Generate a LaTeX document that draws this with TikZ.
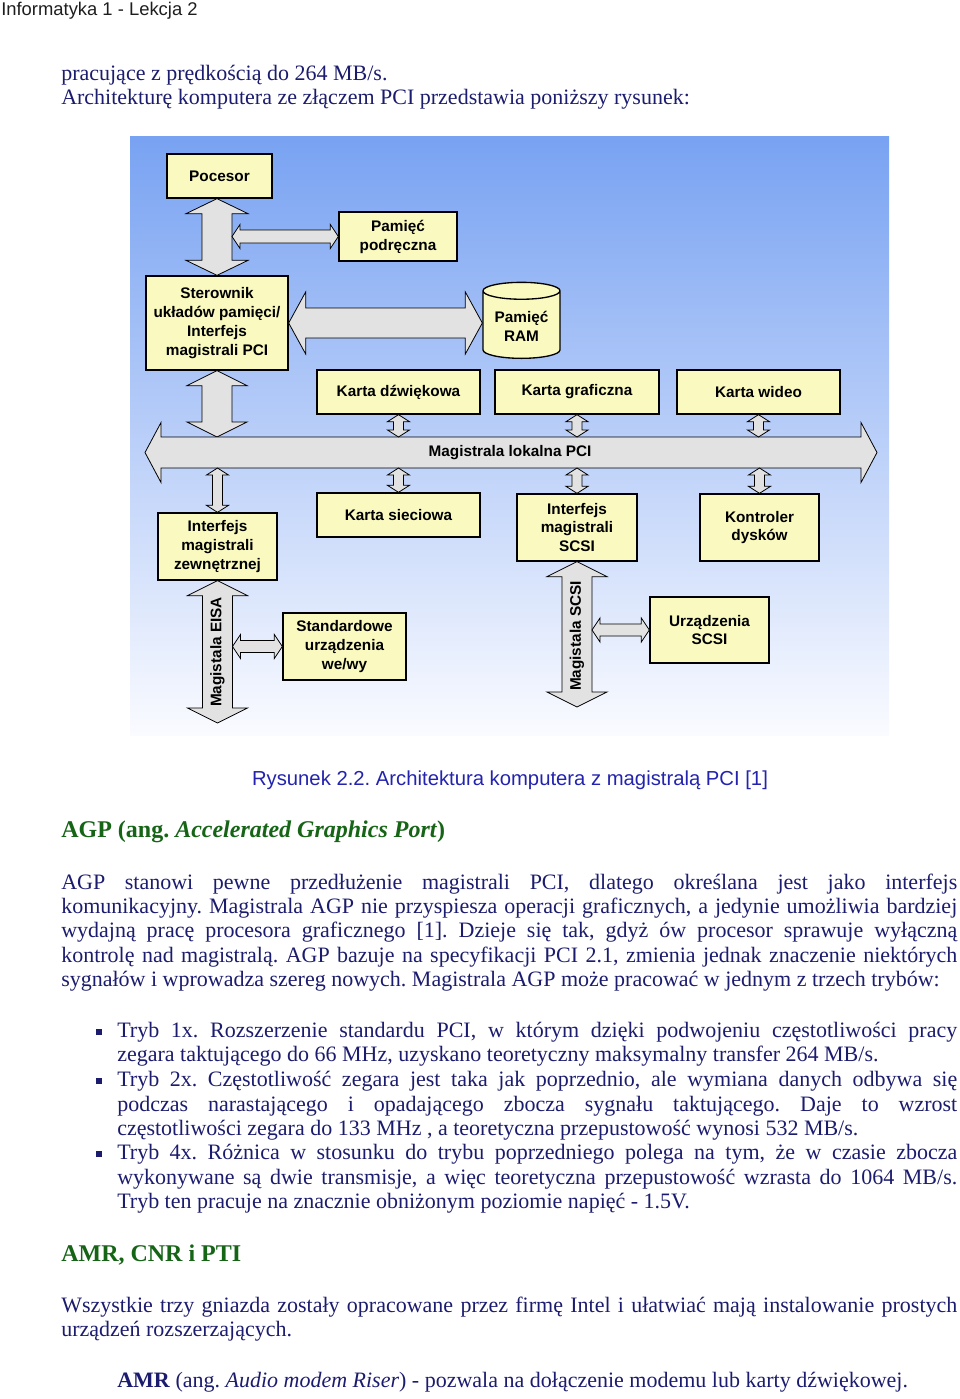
\documentclass[tikz,border=0pt]{standalone}
\usepackage{fontspec}
\setmainfont{Liberation Serif}
\newfontfamily\arialfont{Liberation Sans}
\usepackage{tikz}
\usetikzlibrary{calc,shapes.geometric}
\frenchspacing
\definecolor{textnavy}{RGB}{28,28,110}
\definecolor{capblue}{RGB}{35,35,175}
\definecolor{headgreen}{RGB}{22,100,22}
\definecolor{headgray}{RGB}{30,30,30}
\definecolor{boxyellow}{RGB}{250,250,192}
\definecolor{arrgray}{RGB}{226,226,226}
\definecolor{bgtop}{RGB}{120,162,242}
\definecolor{bgmid}{RGB}{185,205,245}
\definecolor{bgbot}{RGB}{250,251,255}
\newcommand{\diagtext}{\arialfont\bfseries\fontsize{11.5}{14.2}\selectfont}
\newcommand{\bodytext}{\fontsize{16.5}{18.2}\selectfont}
\newcommand{\headtext}{\bfseries\fontsize{18}{20}\selectfont}
\newcommand{\jline}[1]{\makebox[672pt][s]{#1}}
\newcommand{\jbul}[1]{\makebox[630pt][s]{#1}}
\tikzstyle{box}=[rectangle,draw=black,line width=1pt,fill=boxyellow,align=center,font=\diagtext,inner sep=1pt]
\tikzstyle{bsize}=[minimum width=#1*0.75pt]
\tikzstyle{arr}=[draw=black,line width=0.6pt,fill=arrgray]
\tikzstyle{diaglabel}=[font=\diagtext,inner sep=0pt]
\tikzstyle{txt}=[anchor=base west,inner sep=0pt,text=textnavy,font=\bodytext]
\tikzstyle{heading}=[anchor=base west,inner sep=0pt,text=headgreen,font=\headtext]
\tikzstyle{sqbullet}=[rectangle,fill=textnavy,minimum size=4.5pt,inner sep=0pt]
\newcommand{\vdarr}[5]{%
  \path[arr] let \p1=#1, \p2=#2 in
    (\x1,\y1) -- ({\x1+#4*0.75pt},{\y1-#5*0.75pt}) -- ({\x1+#3*0.75pt},{\y1-#5*0.75pt})
    -- ({\x1+#3*0.75pt},{\y2+#5*0.75pt}) -- ({\x1+#4*0.75pt},{\y2+#5*0.75pt}) -- (\x1,\y2)
    -- ({\x1-#4*0.75pt},{\y2+#5*0.75pt}) -- ({\x1-#3*0.75pt},{\y2+#5*0.75pt})
    -- ({\x1-#3*0.75pt},{\y1-#5*0.75pt}) -- ({\x1-#4*0.75pt},{\y1-#5*0.75pt}) -- cycle;}
\newcommand{\hdarr}[5]{%
  \path[arr] let \p1=#1, \p2=#2 in
    (\x1,\y1) -- ({\x1+#5*0.75pt},{\y1+#4*0.75pt}) -- ({\x1+#5*0.75pt},{\y1+#3*0.75pt})
    -- ({\x2-#5*0.75pt},{\y1+#3*0.75pt}) -- ({\x2-#5*0.75pt},{\y1+#4*0.75pt}) -- (\x2,\y1)
    -- ({\x2-#5*0.75pt},{\y1-#4*0.75pt}) -- ({\x2-#5*0.75pt},{\y1-#3*0.75pt})
    -- ({\x1+#5*0.75pt},{\y1-#3*0.75pt}) -- ({\x1+#5*0.75pt},{\y1-#4*0.75pt}) -- cycle;}

\begin{document}
\begin{tikzpicture}[x=0.75pt,y=-0.75pt]
    \useasboundingbox (0,0) rectangle (960,1399);
    \node[anchor=base west,inner sep=0pt,text=headgray,font=\arialfont\fontsize{13.8}{16}\selectfont] (hdr) at (1,16) {Informatyka 1 - Lekcja 2};
    \node[txt] (intro1) at (61,80) {pracujące z prędkością do 264 MB/s.};
    \node[txt] (intro2) at (61,104) {Architekturę komputera ze złączem PCI przedstawia poniższy rysunek:};

    \shade[top color=bgtop,middle color=bgmid,bottom color=bgbot] (130,136) rectangle (889,735);

    \node[box,bsize=105,minimum height=33pt] (proc) at (219.5,176) {Pocesor};
    \node[box,bsize=118,minimum height=36.75pt] (cache) at (398,236.5) {Pamięć\\podręczna};
    \node[box,bsize=142,minimum height=70.5pt] (ctrl) at (217,323) {Sterownik\\układów pamięci/\\Interfejs\\magistrali PCI};
    \node[cylinder,shape border rotate=90,draw=black,line width=1pt,fill=boxyellow,aspect=0.3,
          minimum width=57.75pt,minimum height=57pt,align=center,font=\diagtext,inner sep=1pt] (ram) at (521.5,326) {Pamięć\\RAM};
    \node[box,bsize=163,minimum height=33pt] (snd) at (398.5,392) {Karta dźwiękowa};
    \node[box,bsize=164,minimum height=33pt] (gfx) at (577,392) {Karta graficzna};
    \node[box,bsize=163,minimum height=33pt] (vid) at (758.5,392) {Karta wideo};
    \node[box,bsize=119,minimum height=50.25pt] (ext) at (217.5,546.5) {Interfejs\\magistrali\\zewnętrznej};
    \node[box,bsize=163,minimum height=33pt] (net) at (398.5,515) {Karta sieciowa};
    \node[box,bsize=120,minimum height=50.25pt] (scsi) at (577,527.5) {Interfejs\\magistrali\\SCSI};
    \node[box,bsize=119,minimum height=50.25pt] (disk) at (759.5,527.5) {Kontroler\\dysków};
    \node[box,bsize=123,minimum height=50.25pt] (io) at (344.5,646.5) {Standardowe\\urządzenia\\we/wy};
    \node[box,bsize=119,minimum height=49.5pt] (dev) at (709.5,630) {Urządzenia\\SCSI};

    \coordinate (busL) at (145,452.5);
    \coordinate (busR) at (877,452.5);
    \coordinate (bustop) at (0,437);
    \coordinate (busbot) at (0,468);
    \coordinate (eisaend) at (217.5,723);
    \coordinate (scsiend) at (577,707);

    \vdarr{(ctrl.north |- proc.south)}{(ctrl.north)}{15}{31}{15}
    \hdarr{([xshift=11.25pt]ctrl.north |- cache.west)}{(cache.west)}{6.5}{12}{8}
    \hdarr{(ctrl.east)}{(ram.west |- ctrl.east)}{15}{31}{17}
    \vdarr{(ctrl.south)}{(ctrl.south |- bustop)}{15}{30}{15}
    \hdarr{(busL)}{(busR)}{15.5}{30}{16}
    \node[diaglabel] (pcibus) at (510,452.5) {Magistrala lokalna PCI};
    \foreach \bx in {snd,gfx,vid}
        \vdarr{(\bx.south)}{(\bx.south |- bustop)}{5}{11}{7};
    \foreach \bx in {ext,net,scsi,disk}
        \vdarr{(\bx.north |- busbot)}{(\bx.north)}{5}{11}{7};
    \vdarr{(ext.south)}{(eisaend)}{15}{30}{15}
    \vdarr{(scsi.south)}{(scsiend)}{15}{30}{15}
    \hdarr{([xshift=11.25pt]ext.south |- io.west)}{(io.west)}{6}{12}{8}
    \hdarr{([xshift=11.25pt]scsi.south |- dev.west)}{(dev.west)}{6}{12}{8}
    \node[diaglabel,rotate=90] (eisa) at (217.5,652) {Magistala EISA};
    \node[diaglabel,rotate=90] (scsibus) at (577,636) {Magistala SCSI};

    \node[anchor=base,inner sep=0pt,text=capblue,font=\arialfont\fontsize{15.2}{17}\selectfont] (caption) at (510,785) {Rysunek 2.2. Architektura komputera z magistralą PCI [1]};

    \node[heading] (agp) at (61,837) {AGP (ang. \textit{Accelerated Graphics Port})};
    \node[txt] (p1a) at (61,889) {\jline{AGP stanowi pewne przedłużenie magistrali PCI, dlatego określana jest jako interfejs}};
    \node[txt] (p1b) at (61,913) {\jline{komunikacyjny. Magistrala AGP nie przyspiesza operacji graficznych, a jedynie umożliwia bardziej}};
    \node[txt] (p1c) at (61,937) {\jline{wydajną pracę procesora graficznego [1]. Dzieje się tak, gdyż ów procesor sprawuje wyłączną}};
    \node[txt] (p1d) at (61,962) {\jline{kontrolę nad magistralą. AGP bazuje na specyfikacji PCI 2.1, zmienia jednak znaczenie niektórych}};
    \node[txt] (p1e) at (61,986) {sygnałów i wprowadza szereg nowych. Magistrala AGP może pracować w jednym z trzech trybów:};

    \node[sqbullet] (b1) at (99,1032) {};
    \node[sqbullet] (b2) at (99,1081) {};
    \node[sqbullet] (b3) at (99,1154) {};
    \node[txt] (t1a) at (117,1037) {\jbul{Tryb 1x. Rozszerzenie standardu PCI, w którym dzięki podwojeniu częstotliwości pracy}};
    \node[txt] (t1b) at (117,1061) {zegara taktującego do 66 MHz, uzyskano teoretyczny maksymalny transfer 264 MB/s.};
    \node[txt] (t2a) at (117,1086) {\jbul{Tryb 2x. Częstotliwość zegara jest taka jak poprzednio, ale wymiana danych odbywa się}};
    \node[txt] (t2b) at (117,1111) {\jbul{podczas narastającego i opadającego zbocza sygnału taktującego. Daje to wzrost}};
    \node[txt] (t2c) at (117,1135) {częstotliwości zegara do 133 MHz , a teoretyczna przepustowość wynosi 532 MB/s.};
    \node[txt] (t3a) at (117,1159) {\jbul{Tryb 4x. Różnica w stosunku do trybu poprzedniego polega na tym, że w czasie zbocza}};
    \node[txt] (t3b) at (117,1184) {\jbul{wykonywane są dwie transmisje, a więc teoretyczna przepustowość wzrasta do 1064 MB/s.}};
    \node[txt] (t3c) at (117,1208) {Tryb ten pracuje na znacznie obniżonym poziomie napięć - 1.5V.};

    \node[heading] (amrhead) at (61,1261) {AMR, CNR i PTI};
    \node[txt] (p2a) at (61,1312) {\jline{Wszystkie trzy gniazda zostały opracowane przez firmę Intel i ułatwiać mają instalowanie prostych}};
    \node[txt] (p2b) at (61,1336) {urządzeń rozszerzających.};
    \node[txt] (amr) at (117,1387) {\textbf{AMR} (ang. \textit{Audio modem Riser}) - pozwala na dołączenie modemu lub karty dźwiękowej.};
\end{tikzpicture}
\end{document}
